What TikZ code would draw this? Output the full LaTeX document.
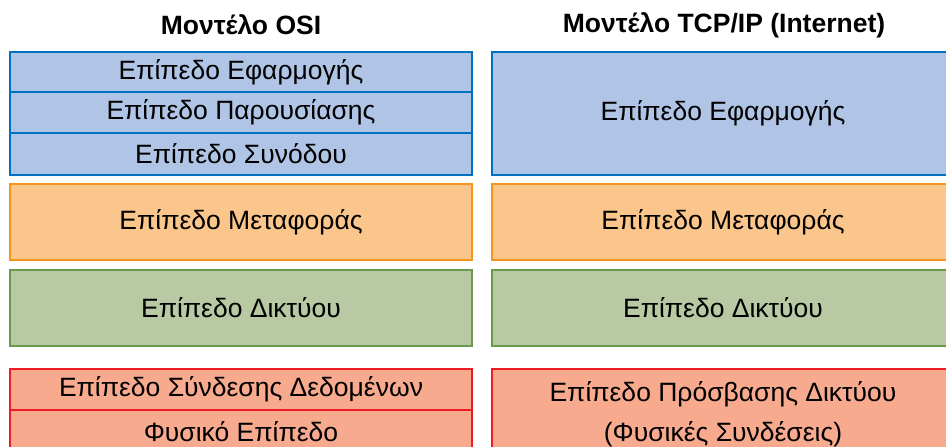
\documentclass[tikz,border=0pt]{standalone}
\usepackage{fontspec}
\setmainfont{Liberation Sans}
\definecolor{bfill}{HTML}{B0C4E6}
\definecolor{bline}{HTML}{0070C0}
\definecolor{ofill}{HTML}{FAC68C}
\definecolor{oline}{HTML}{F7941D}
\definecolor{gfill}{HTML}{B9C9A3}
\definecolor{gline}{HTML}{6A9A4A}
\definecolor{rfill}{HTML}{F8AA8F}
\definecolor{rline}{HTML}{EE1C25}
\tikzset{
  layer/.style={draw=#1line, fill=#1fill, line width=2.5pt, rectangle, minimum width=462pt, inner sep=0pt, outer sep=0pt, font=\fontsize{26.5}{40}\selectfont, align=center, text=black},
  title/.style={font=\bfseries\fontsize{26.5}{30}\selectfont, inner sep=0pt}
}
\begin{document}
\begin{tikzpicture}[x=1pt,y=-1pt]
\useasboundingbox (0,0) rectangle (946,447);
\clip (0,0) rectangle (946,447);
\node[title] (t1) at (241,25) {Μοντέλο OSI};
\node[title] (t2) at (724,25) {Μοντέλο TCP/IP (Internet)};
% OSI
\node[layer=b, minimum height=40pt] (o7) at (241,72) {Επίπεδο Εφαρμογής};
\node[layer=b, minimum height=41pt] (o6) at (241,112.5) {Επίπεδο Παρουσίασης};
\node[layer=b, minimum height=42pt] (o5) at (241,154) {Επίπεδο Συνόδου};
\node[layer=o, minimum height=76pt] (o4) at (241,222) {Επίπεδο Μεταφοράς};
\node[layer=g, minimum height=76pt] (o3) at (241,308) {Επίπεδο Δικτύου};
\node[layer=r, minimum height=41pt] (o2) at (241,389.5) {Επίπεδο Σύνδεσης Δεδομένων};
\node[layer=r, minimum height=44pt] (o1) at (241,432) {Φυσικό Επίπεδο};
% TCP/IP
\node[layer=b, minimum height=123pt] (i4) at (723,113.5) {Επίπεδο Εφαρμογής};
\node[layer=o, minimum height=76pt] (i3) at (723,222) {Επίπεδο Μεταφοράς};
\node[layer=g, minimum height=76pt] (i2) at (723,308) {Επίπεδο Δικτύου};
\node[layer=r, minimum height=90pt] (i1) at (723,414) {Επίπεδο Πρόσβασης Δικτύου\\(Φυσικές Συνδέσεις)};
\end{tikzpicture}
\end{document}
